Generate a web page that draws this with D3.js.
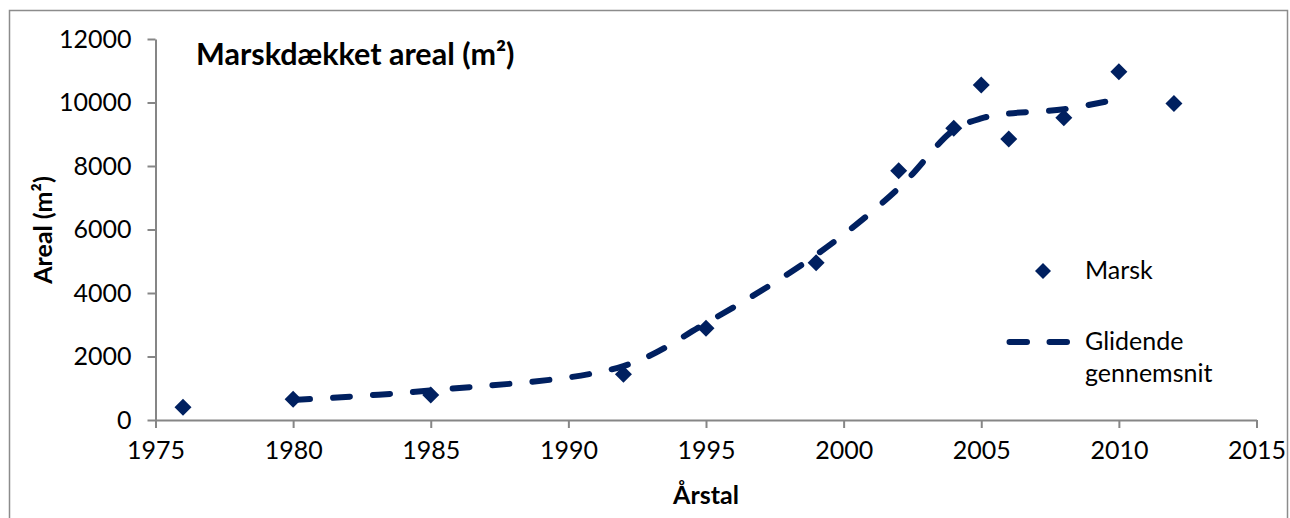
<!DOCTYPE html>
<html>
<head>
<meta charset="utf-8">
<script src="https://cdn.jsdelivr.net/npm/d3@7"></script>
<style>
  body { margin: 0; background: #fff; }
  svg { display: block; }
  text { font-family: Lato, "Open Sans", sans-serif; fill: #000; }
</style>
</head>
<body>
<svg id="chart" width="1290" height="518"></svg>
<script>
// Observed marsh area per year
const years = [1976, 1980, 1985, 1992, 1995, 1999, 2002, 2004, 2005, 2006, 2008, 2010, 2012];
const marsk = [400, 650, 790, 1440, 2890, 4950, 7850, 9190, 10550, 8850, 9520, 10970, 9970];

// Moving average (glidende gennemsnit)
const avgYears = [1980, 1985, 1992, 1995, 1999, 2002, 2004, 2005, 2006, 2008, 2010];
const avgValues = [630, 930, 1700, 3050, 5200, 7300, 9130, 9500, 9650, 9790, 10110];

const xTicks = [1975, 1980, 1985, 1990, 1995, 2000, 2005, 2010, 2015];
const yTicks = [0, 2000, 4000, 6000, 8000, 10000, 12000];

const navy = "#002060";
const axisGrey = "#868686";

const svg = d3.select("#chart");

// chart area frame
svg.append("rect")
  .attr("x", 9.5).attr("y", 10.5)
  .attr("width", 1278).attr("height", 520)
  .attr("fill", "none")
  .attr("stroke", "#8c8c8c")
  .attr("stroke-width", 1.5);

const x = d3.scaleLinear().domain([1975, 2015]).range([155.5, 1256.5]);
const y = d3.scaleLinear().domain([0, 12000]).range([420, 39]);

// y axis
const yAxis = svg.append("g")
  .attr("transform", `translate(${x(1975)},0)`)
  .call(d3.axisLeft(y).tickValues(yTicks).tickSize(8).tickSizeOuter(0).tickPadding(16).tickFormat(d3.format("d")));

// x axis
const xAxis = svg.append("g")
  .attr("transform", `translate(0,${y(0)})`)
  .call(d3.axisBottom(x).tickValues(xTicks).tickSize(8).tickSizeOuter(0).tickPadding(13).tickFormat(d3.format("d")));

[yAxis, xAxis].forEach(g => {
  g.select(".domain").attr("stroke", axisGrey).attr("stroke-width", 2);
  g.selectAll(".tick line").attr("stroke", axisGrey).attr("stroke-width", 2);
  g.selectAll(".tick text").style("font-size", "25px").attr("fill", "#000");
});

// moving average line
const line = d3.line()
  .x((d, i) => x(avgYears[i]))
  .y(d => y(d))
  .curve(d3.curveCatmullRom.alpha(0.5));

svg.append("path")
  .datum(avgValues)
  .attr("d", line)
  .attr("fill", "none")
  .attr("stroke", navy)
  .attr("stroke-width", 6)
  .attr("stroke-linecap", "round")
  .attr("stroke-dasharray", "17,23");

// diamond markers
const diamond = r => `M0,${-r}L${r},0L0,${r}L${-r},0Z`;

svg.append("g")
  .selectAll("path")
  .data(marsk)
  .join("path")
  .attr("d", diamond(8.5))
  .attr("transform", (d, i) => `translate(${x(years[i])},${y(d)})`)
  .attr("fill", navy);

// title
svg.append("text")
  .attr("x", 196).attr("y", 65)
  .style("font-size", "30.5px")
  .style("font-weight", "bold")
  .text("Marskdækket areal (m²)");

// axis titles
svg.append("text")
  .attr("transform", "translate(52,230) rotate(-90)")
  .attr("text-anchor", "middle")
  .style("font-size", "25px")
  .style("font-weight", "bold")
  .text("Areal (m²)");

svg.append("text")
  .attr("x", 706).attr("y", 504)
  .attr("text-anchor", "middle")
  .style("font-size", "25px")
  .style("font-weight", "bold")
  .text("Årstal");

// legend
const legend = svg.append("g");
legend.append("path")
  .attr("d", diamond(8))
  .attr("transform", "translate(1043,271)")
  .attr("fill", navy);
legend.append("text")
  .attr("x", 1085).attr("y", 279)
  .style("font-size", "25px")
  .text("Marsk");

legend.append("line")
  .attr("x1", 1009.5).attr("x2", 1067)
  .attr("y1", 342).attr("y2", 342)
  .attr("stroke", navy)
  .attr("stroke-width", 6)
  .attr("stroke-linecap", "round")
  .attr("stroke-dasharray", "17.5,22.5");
legend.append("text")
  .attr("x", 1085).attr("y", 350)
  .style("font-size", "25px")
  .text("Glidende");
legend.append("text")
  .attr("x", 1085).attr("y", 382)
  .style("font-size", "25px")
  .text("gennemsnit");
</script>
</body>
</html>
